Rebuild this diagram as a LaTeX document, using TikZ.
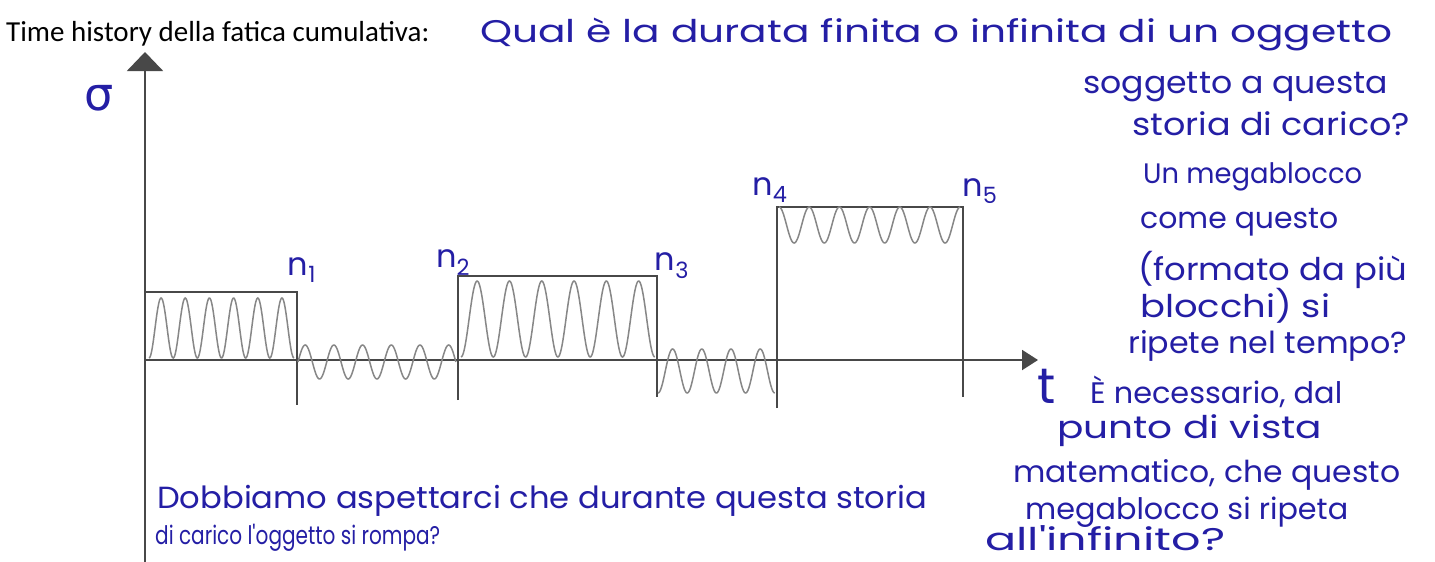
\documentclass[tikz,border=0pt]{standalone}
\usepackage{fontspec}
\usepackage{graphicx}
\setmainfont{Carlito}
\newfontfamily\hwfont{Poppins}
\newfontfamily\grkfont{DejaVu Sans}
\usetikzlibrary{arrows.meta}
\definecolor{ink}{RGB}{36,30,165}
\definecolor{pencil}{RGB}{72,72,72}
\definecolor{pencilL}{RGB}{135,135,135}
\newsavebox{\hwbox}
% handwritten line: fitted to width #1 (pt); vertical scale follows the horizontal one, within 0.88..1.08
\newcommand{\hw}[2]{%
  \sbox{\hwbox}{\hwfont\fontsize{29}{31}\selectfont #2}%
  \pgfmathsetmacro{\hwr}{#1/\wd\hwbox}%
  \pgfmathsetmacro{\hwv}{min(max(sqrt(\hwr),0.88),1.08)}%
  \scalebox{\hwr}[\hwv]{\usebox{\hwbox}}}
\begin{document}
\begin{tikzpicture}[x=1pt,y=-1pt,
  axisline/.style={draw=pencil,line width=2pt},
  boxline/.style={draw=pencil,line width=1.8pt},
  wave/.style={draw=pencilL,line width=1.5pt},
  hand/.style={text=ink,inner sep=0pt,anchor=base west},
  lab/.style={text=ink,inner sep=0pt,font=\hwfont\fontsize{32}{34}\selectfont}]
\useasboundingbox (0,0) rectangle (1435,562);
\fill[white] (0,0) rectangle (1435,562);

% title
\node[anchor=base west,inner sep=0pt,font=\fontsize{29}{32}\selectfont] (title) at (6,41) {Time history della fatica cumulativa:};

% axes
\coordinate (O) at (145,360);
\coordinate (ytop) at (145,52);
\coordinate (ybot) at (145,562);
\coordinate (xend) at (1038,360);
\draw[axisline,-{Triangle[width=36pt,length=19pt,fill=pencil]}] (ybot) -- (ytop);
\draw[axisline,-{Triangle[width=20pt,length=16pt,fill=pencil]}] (O) -- (xend);

% block outlines
\coordinate (b1l) at (145,292); \coordinate (b1r) at (297,292); \coordinate (b1d) at (297,405);
\draw[boxline] (b1l) -- (b1r) -- (b1d);
\coordinate (b2d) at (458,400); \coordinate (b2l) at (458,276); \coordinate (b2r) at (657,276); \coordinate (b2e) at (657,397);
\draw[boxline] (b2d) -- (b2l) -- (b2r) -- (b2e);
\coordinate (b4d) at (777,408); \coordinate (b4l) at (777,207); \coordinate (b4r) at (963,207); \coordinate (b4e) at (963,397);
\draw[boxline] (b4d) -- (b4l) -- (b4r) -- (b4e);

% oscillations (parameter = number of cycles)
\draw[wave] plot[domain=0:6,samples=240,smooth] ({149+24.17*\x},{358-30*(1-cos(360*\x))});
\draw[wave] plot[domain=0:5.5,samples=240,smooth] ({298+28.7*\x},{362-17*sin(360*\x)});
\draw[wave] plot[domain=0:6,samples=260,smooth] ({461+32.3*\x},{357-38*(1-cos(360*\x))});
\draw[wave] plot[domain=0:4,samples=200,smooth] ({658+29.2*\x},{371+22*cos(360*\x)});
\draw[wave] plot[domain=0:6,samples=240,smooth] ({779+30.2*\x},{207+18*(1-cos(360*\x))});

% labels
\node[lab] (sigma) at (99,98) {\grkfont\fontsize{46}{46}\selectfont σ};
\node[lab] (tlab) at (1047,386) {\fontsize{50}{50}\selectfont t};
\node[lab] (n1) at (302,270) {n\textsubscript{1}};
\node[lab] (n2) at (453,263) {n\textsubscript{2}};
\node[lab] (n3) at (672,266) {n\textsubscript{3}};
\node[lab] (n4) at (770,190) {n\textsubscript{4}};
\node[lab] (n5) at (980,191) {n\textsubscript{5}};

% handwritten notes (top / right)
\node[hand] (q1) at (480,42) {\hw{912}{Qual è la durata finita o infinita di un oggetto}};
\node[hand] (q2) at (1083,93) {\hw{305}{soggetto a questa}};
\node[hand] (q3) at (1132,135) {\hw{278}{storia di carico?}};
\node[hand] (q4) at (1143,183) {\hw{219}{Un megablocco}};
\node[hand] (q5) at (1140,228) {\hw{198}{come questo}};
\node[hand] (q6) at (1138,280) {\hw{269}{(formato da più}};
\node[hand] (q7) at (1140,317) {\hw{190}{blocchi) si}};
\node[hand] (q8) at (1128,353) {\hw{279}{ripete nel tempo?}};
\node[hand] (q9) at (1090,403) {\hw{252}{È necessario, dal}};
\node[hand] (q10) at (1057,438) {\hw{265}{punto di vista}};
\node[hand] (q11) at (1013,482) {\hw{387}{matematico, che questo}};
\node[hand] (q12) at (1025,519) {\hw{323}{megablocco si ripeta}};
\node[hand] (q13) at (985,550) {\hw{240}{all'infinito?}};

% handwritten note (bottom left)
\node[hand] (d1) at (157,508) {\hw{770}{Dobbiamo aspettarci che durante questa storia}};
\node[hand] (d2) at (155,544) {\hw{285}{di carico l'oggetto si rompa?}};
\end{tikzpicture}
\end{document}
